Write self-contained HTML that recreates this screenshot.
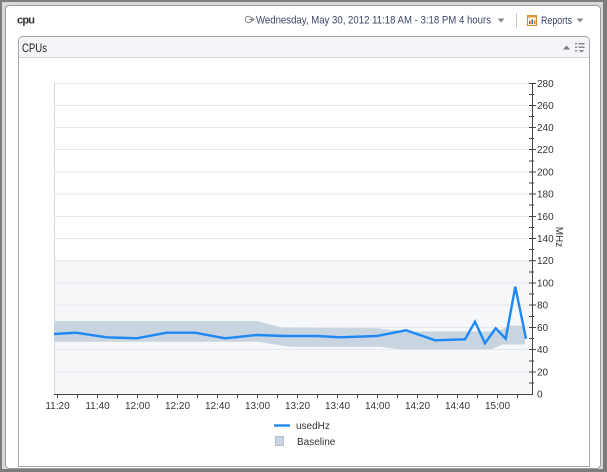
<!DOCTYPE html>
<html><head><meta charset="utf-8"><style>
html,body{margin:0;padding:0;background:#fff;}
svg{display:block;}
text{font-family:"Liberation Sans",sans-serif;}
</style></head><body>
<svg width="607" height="472" viewBox="0 0 607 472" xmlns="http://www.w3.org/2000/svg">
<rect x="0" y="0" width="607" height="472" fill="#7c7c7c"/>
<rect x="2" y="2" width="601" height="467" fill="#d8d8d8"/>
<rect x="5.5" y="5.5" width="595" height="463" rx="4" fill="#fff" stroke="#9c9c9c"/>
<!-- header -->
<text x="17" y="23.5" font-size="11" font-weight="bold" fill="#333" textLength="18">cpu</text>
<g stroke="#888" fill="none" stroke-width="1">
<circle cx="248.5" cy="19.5" r="3.2"/>
<path d="M249 19.5h5M252 17.5l2 2-2 2"/>
</g>
<text x="256" y="23.5" font-size="11" fill="#3a4666" textLength="235" lengthAdjust="spacingAndGlyphs">Wednesday, May 30, 2012 11:18 AM - 3:18 PM 4 hours</text>
<path d="M497.5 18.5h7l-3.5 4z" fill="#8a8a8a"/>
<line x1="516.5" y1="13" x2="516.5" y2="28" stroke="#c8c8c8"/>
<rect x="527.5" y="15.5" width="9" height="10" fill="#fff4d8" stroke="#c8902a"/>
<rect x="527.5" y="15.5" width="9" height="2" fill="#e0a040"/>
<rect x="529" y="21" width="1.5" height="3" fill="#d04020"/>
<rect x="531.5" y="19.5" width="1.5" height="4.5" fill="#3070c0"/>
<rect x="534" y="20.5" width="1.5" height="3.5" fill="#e08020"/>
<text x="541" y="24" font-size="11" fill="#3a4666" textLength="31" lengthAdjust="spacingAndGlyphs">Reports</text>
<path d="M576.5 18.5h7l-3.5 4z" fill="#8a8a8a"/>
<!-- inner panel -->
<path d="M18.5 466.5V40.5a4 4 0 0 1 4-4h563a4 4 0 0 1 4 4V466.5z" fill="#fff" stroke="#a6a6a6"/>
<path d="M19 57.5V40.5a3.5 3.5 0 0 1 3.5-3.5h563a3.5 3.5 0 0 1 3.5 3.5V57.5z" fill="#f3f4f7"/>
<line x1="19" y1="57.5" x2="589" y2="57.5" stroke="#d4d6da"/>
<text x="22" y="52" font-size="11.5" fill="#1e1e1e" textLength="25" lengthAdjust="spacingAndGlyphs">CPUs</text>
<path d="M563 49.5h7l-3.5-4z" fill="#777"/>
<g fill="#888">
<rect x="575" y="43" width="2" height="1.5"/><rect x="578.5" y="43" width="6" height="1.5"/>
<rect x="575" y="46.5" width="2" height="1.5"/><rect x="578.5" y="46.5" width="6" height="1.5"/>
<rect x="575" y="50" width="2" height="1.5"/><path d="M578.5 50h6l-3 2.5z"/>
</g>
<!-- plot -->
<rect x="54" y="260.7" width="478" height="133.3" fill="#f6f7f9"/>
<g stroke="#e6e8ee" stroke-width="1">
<line x1="54" y1="83.5" x2="532" y2="83.5"/>
<line x1="54" y1="105.5" x2="532" y2="105.5"/>
<line x1="54" y1="127.5" x2="532" y2="127.5"/>
<line x1="54" y1="149.5" x2="532" y2="149.5"/>
<line x1="54" y1="172" x2="532" y2="172"/>
<line x1="54" y1="194" x2="532" y2="194"/>
<line x1="54" y1="216.5" x2="532" y2="216.5"/>
<line x1="54" y1="238.5" x2="532" y2="238.5"/>
<line x1="54" y1="260.7" x2="532" y2="260.7"/>
<line x1="54" y1="283" x2="532" y2="283"/>
<line x1="54" y1="305" x2="532" y2="305"/>
<line x1="54" y1="327.5" x2="532" y2="327.5"/>
<line x1="54" y1="349.5" x2="532" y2="349.5"/>
<line x1="54" y1="372" x2="532" y2="372"/>
</g>
<line x1="54.5" y1="83" x2="54.5" y2="394" stroke="#d6d6d8"/>
<!-- baseline band -->
<polygon fill="#c8d4e0" points="54,321 257,321 283,327.7 378,328.3 405,331.5 497,331.5 510,325.5 525,325.5 525,344.5 502,344.5 492,349.3 400,349.3 378,346.7 290,346.7 257,341.7 54,341.7"/>
<!-- data line -->
<polyline fill="none" stroke="#1e88f5" stroke-width="2.4" stroke-linejoin="miter" points="54,334 76,332.7 106.7,337.3 136.7,338.3 166.7,332.7 195,332.7 225,338.3 256.7,335 285,336 316.7,336 340,337.3 376.7,336 406,330.3 435,340.3 465,339.3 475,321.7 485,343.3 495.7,328.3 505.7,338.7 515.3,286.7 526,338.7"/>
<!-- x axis -->
<line x1="54" y1="394.5" x2="533" y2="394.5" stroke="#444"/>
<g stroke="#444">
<line x1="57.5" y1="394" x2="57.5" y2="398"/><line x1="77.5" y1="394" x2="77.5" y2="398"/>
<line x1="97.5" y1="394" x2="97.5" y2="398"/><line x1="117.5" y1="394" x2="117.5" y2="398"/>
<line x1="137.5" y1="394" x2="137.5" y2="398"/><line x1="157.5" y1="394" x2="157.5" y2="398"/>
<line x1="177.5" y1="394" x2="177.5" y2="398"/><line x1="197.5" y1="394" x2="197.5" y2="398"/>
<line x1="217.5" y1="394" x2="217.5" y2="398"/><line x1="237.5" y1="394" x2="237.5" y2="398"/>
<line x1="257.5" y1="394" x2="257.5" y2="398"/><line x1="277.5" y1="394" x2="277.5" y2="398"/>
<line x1="297.5" y1="394" x2="297.5" y2="398"/><line x1="317.5" y1="394" x2="317.5" y2="398"/>
<line x1="337.5" y1="394" x2="337.5" y2="398"/><line x1="357.5" y1="394" x2="357.5" y2="398"/>
<line x1="377.5" y1="394" x2="377.5" y2="398"/><line x1="397.5" y1="394" x2="397.5" y2="398"/>
<line x1="417.5" y1="394" x2="417.5" y2="398"/><line x1="437.5" y1="394" x2="437.5" y2="398"/>
<line x1="457.5" y1="394" x2="457.5" y2="398"/><line x1="477.5" y1="394" x2="477.5" y2="398"/>
<line x1="497.5" y1="394" x2="497.5" y2="398"/><line x1="517.5" y1="394" x2="517.5" y2="398"/>
</g>
<g font-size="10" fill="#333" text-anchor="middle">
<text x="57.5" y="409">11:20</text><text x="97.5" y="409">11:40</text>
<text x="137.5" y="409">12:00</text><text x="177.5" y="409">12:20</text>
<text x="217.5" y="409">12:40</text><text x="257.5" y="409">13:00</text>
<text x="297.5" y="409">13:20</text><text x="337.5" y="409">13:40</text>
<text x="377.5" y="409">14:00</text><text x="417.5" y="409">14:20</text>
<text x="457.5" y="409">14:40</text><text x="497.5" y="409">15:00</text>
</g>
<!-- y axis -->
<line x1="532.5" y1="83" x2="532.5" y2="394.5" stroke="#444"/>
<g stroke="#444">
<line x1="529" y1="83.5" x2="536" y2="83.5"/><line x1="529" y1="94.5" x2="534" y2="94.5"/>
<line x1="529" y1="105.5" x2="536" y2="105.5"/><line x1="529" y1="116.5" x2="534" y2="116.5"/>
<line x1="529" y1="127.5" x2="536" y2="127.5"/><line x1="529" y1="138.5" x2="534" y2="138.5"/>
<line x1="529" y1="149.5" x2="536" y2="149.5"/><line x1="529" y1="161" x2="534" y2="161"/>
<line x1="529" y1="172" x2="536" y2="172"/><line x1="529" y1="183" x2="534" y2="183"/>
<line x1="529" y1="194" x2="536" y2="194"/><line x1="529" y1="205" x2="534" y2="205"/>
<line x1="529" y1="216.5" x2="536" y2="216.5"/><line x1="529" y1="227.5" x2="534" y2="227.5"/>
<line x1="529" y1="238.5" x2="536" y2="238.5"/><line x1="529" y1="249.5" x2="534" y2="249.5"/>
<line x1="529" y1="260.7" x2="536" y2="260.7"/><line x1="529" y1="272" x2="534" y2="272"/>
<line x1="529" y1="283" x2="536" y2="283"/><line x1="529" y1="294" x2="534" y2="294"/>
<line x1="529" y1="305" x2="536" y2="305"/><line x1="529" y1="316.5" x2="534" y2="316.5"/>
<line x1="529" y1="327.5" x2="536" y2="327.5"/><line x1="529" y1="338.5" x2="534" y2="338.5"/>
<line x1="529" y1="349.5" x2="536" y2="349.5"/><line x1="529" y1="361" x2="534" y2="361"/>
<line x1="529" y1="372" x2="536" y2="372"/><line x1="529" y1="383" x2="534" y2="383"/>
</g>
<g font-size="10" fill="#333">
<text x="537" y="87">280</text><text x="537" y="109">260</text>
<text x="537" y="131">240</text><text x="537" y="153">220</text>
<text x="537" y="175.5">200</text><text x="537" y="197.5">180</text>
<text x="537" y="220">160</text><text x="537" y="242">140</text>
<text x="537" y="264">120</text><text x="537" y="286.5">100</text>
<text x="537" y="308.5">80</text><text x="537" y="331">60</text>
<text x="537" y="353">40</text><text x="537" y="375.5">20</text>
<text x="537" y="397.5">0</text>
</g>
<text x="0" y="0" font-size="10" fill="#333" text-anchor="middle" transform="translate(556,237) rotate(90)">MHz</text>
<!-- legend -->
<line x1="274" y1="425.5" x2="290" y2="425.5" stroke="#1e88f5" stroke-width="2.4"/>
<text x="296" y="429" font-size="10" fill="#333">usedHz</text>
<rect x="275.5" y="436.5" width="8" height="9" fill="#c8d4e0" stroke="#b4c0cc"/>
<text x="297" y="445" font-size="10" fill="#333">Baseline</text>
</svg>
</body></html>
